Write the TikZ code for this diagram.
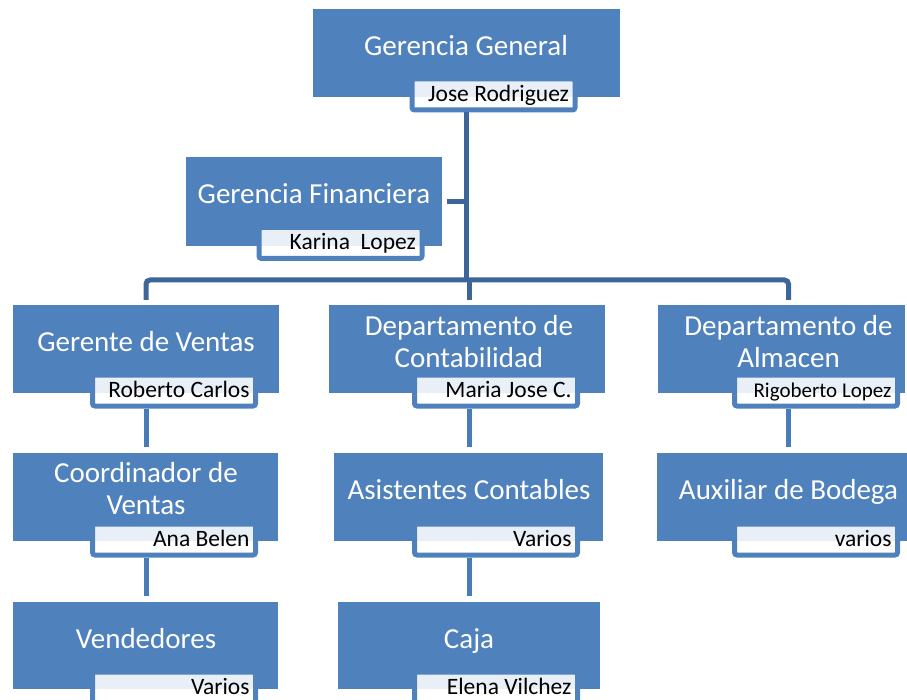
\documentclass[tikz,border=0pt]{standalone}
\usepackage{fontspec}
\setmainfont{Carlito}
\definecolor{boxblue}{HTML}{4F81BD}
\definecolor{busblue}{HTML}{3D6599}
\definecolor{linkblue}{HTML}{4A7BB9}

\begin{document}
\begin{tikzpicture}[
    x=1pt, y=-1pt,
    box/.style={rectangle, fill=boxblue, inner sep=0pt},
    title/.style={text=white, font=\fontsize{29}{32}\selectfont, align=center, anchor=base, inner sep=0pt},
    person/.style={fill=white, fill opacity=0.88, text opacity=1, draw=boxblue, line width=5pt,
        rounded corners=2.5pt, text width=151pt, align=flush right, inner xsep=6pt, inner ysep=6.5pt,
        text height=16pt, text depth=2pt, font=\fontsize{23.5}{26}\selectfont},
    bus/.style={draw=busblue, line width=5pt},
    link/.style={draw=linkblue, line width=5pt}]

\useasboundingbox (0,0) rectangle (907,700);

% Boxes
\node[box, minimum width=307, minimum height=88] (gg) at (466.5,53) {};
\node[box, minimum width=256, minimum height=89] (gf) at (314,201.5) {};
\node[box, minimum width=266, minimum height=88] (gv) at (146,349) {};
\node[box, minimum width=276, minimum height=88] (dc) at (467,349) {};
\node[box, minimum width=247, minimum height=88] (da) at (781.5,349) {};
\node[box, minimum width=265, minimum height=88] (cv) at (145.5,497) {};
\node[box, minimum width=269, minimum height=88] (ac) at (468.5,497) {};
\node[box, minimum width=250, minimum height=88] (ab) at (782,497) {};
\node[box, minimum width=265, minimum height=87] (ve) at (145.5,645.5) {};
\node[box, minimum width=262, minimum height=87] (ca) at (469,645.5) {};

% Names
\node[person] (gg-l) at (493.5,94.5) {Jose Rodriguez};
\node[person] (gf-l) at (340.5,243) {Karina\ \ Lopez};
\node[person] (gv-l) at (174,390.5) {Roberto Carlos};
\node[person] (dc-l) at (496,390.5) {Maria Jose C.};
\node[person, font=\fontsize{21}{24}\selectfont] (da-l) at (816,390.5) {Rigoberto Lopez};
\node[person] (cv-l) at (174,539.5) {Ana Belen};
\node[person] (ac-l) at (496,539.5) {Varios};
\node[person] (ab-l) at (816,539.5) {varios};
\node[person] (ve-l) at (174,687.5) {Varios};
\node[person] (ca-l) at (496,687.5) {Elena Vilchez};

% Titles (base = last line)
\node[title] (gg-t) at (466,55.5) {Gerencia General};
\node[title] (gf-t) at (314,203.5) {Gerencia Financiera};
\node[title] (gv-t) at (146,351.5) {Gerente de Ventas};
\node[title] (dc-t) at (469,367) {Departamento de\\Contabilidad};
\node[title] (da-t) at (788.5,367) {Departamento de\\Almacen};
\node[title] (cv-t) at (146,514.5) {Coordinador de\\Ventas};
\node[title] (ac-t) at (469,499.5) {Asistentes Contables};
\node[title] (ab-t) at (788.5,499.5) {Auxiliar de Bodega};
\node[title] (ve-t) at (146,648) {Vendedores};
\node[title] (ca-t) at (469,648) {Caja};

% Bus joints
\coordinate (bus-m) at (466.5,280);
\coordinate (bus-c) at (469.5,280);
\coordinate (bus-r) at (788.5,280);

% Lines
\draw[bus] (gg.south |- gg-l.south) -- (bus-m);
\draw[bus, shorten <=5pt] (gf.east) -- (gf.east -| bus-m);
\draw[bus, rounded corners=4pt, shorten <=5pt, shorten >=5pt] (gv.north) |- (bus-r) -- (bus-r |- da.north);
\draw[bus, shorten >=5pt] (bus-c) -- (bus-c |- dc.north);

\draw[link, shorten >=6pt] (gv-t |- gv-l.south) -- (gv-t |- cv.north);
\draw[link, shorten >=6pt] (dc-t |- dc-l.south) -- (dc-t |- ac.north);
\draw[link, shorten >=6pt] (da-t |- da-l.south) -- (da-t |- ab.north);
\draw[link, shorten >=6pt] (cv-t |- cv-l.south) -- (cv-t |- ve.north);
\draw[link, shorten >=6pt] (ac-t |- ac-l.south) -- (ac-t |- ca.north);

\end{tikzpicture}
\end{document}
